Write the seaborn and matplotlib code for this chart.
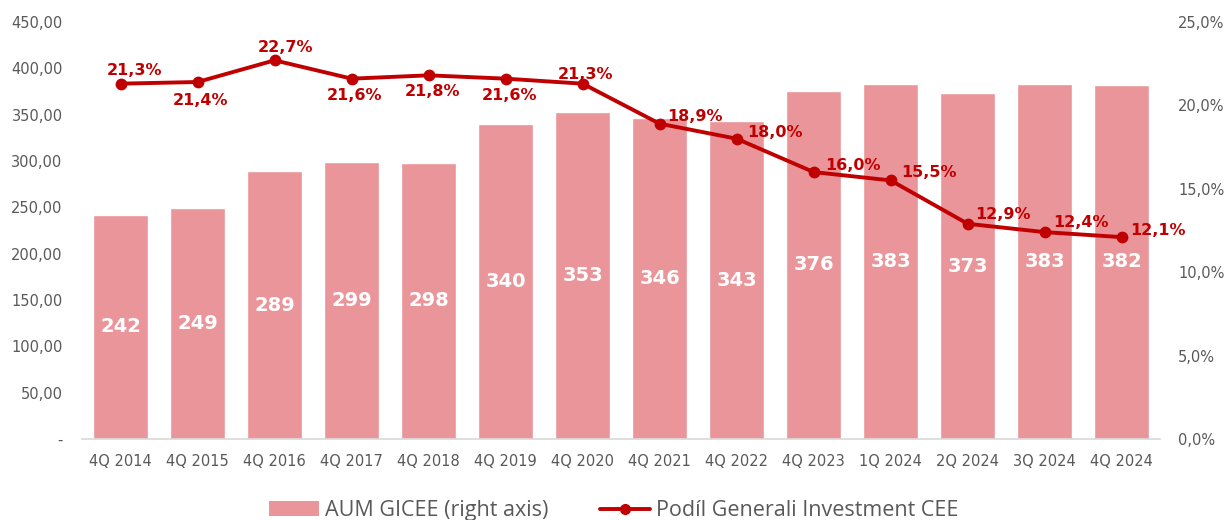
import pandas as pd
import numpy as np
import matplotlib
matplotlib.use("Agg")
import matplotlib.pyplot as plt
from matplotlib.ticker import FuncFormatter
from matplotlib.patches import Patch
from matplotlib.lines import Line2D
import seaborn as sns

# === Daten ===
quarters = ["4Q 2014", "4Q 2015", "4Q 2016", "4Q 2017", "4Q 2018", "4Q 2019", "4Q 2020",
            "4Q 2021", "4Q 2022", "4Q 2023", "1Q 2024", "2Q 2024", "3Q 2024", "4Q 2024"]
aum = [242, 249, 289, 299, 298, 340, 353, 346, 343, 376, 383, 373, 383, 382]
share = [21.3, 21.4, 22.7, 21.6, 21.8, 21.6, 21.3, 18.9, 18.0, 16.0, 15.5, 12.9, 12.4, 12.1]

# label placement for the share labels: (dx px, dy px, horizontal alignment)
share_pos = [(14, 13, "center"), (3, -19, "center"), (11, 13, "center"), (3, -17, "center"),
             (4, -16, "center"), (4, -17, "center"), (3, 9, "center"),
             (8, 7, "left"), (11, 6, "left"), (12, 7, "left"), (11, 8, "left"),
             (8, 9, "left"), (8, 10, "left"), (8, 7, "left")]

bar_color = "#EA9599"
line_color = "#C00000"
text_gray = "#595959"

sns.set_theme(style="white")
plt.rcParams["font.family"] = ["DejaVu Sans"]

df = pd.DataFrame({"quarter": quarters, "aum": aum, "share": share})

fig = plt.figure(figsize=(12.28, 5.2), dpi=100)
ax = fig.add_axes([0.0668, 0.1558, 0.878, 0.802])

sns.barplot(data=df, x="quarter", y="aum", color=bar_color, width=0.72,
            saturation=1, ax=ax)
ax.set_ylim(0, 450)
ax.set_yticks(np.arange(0, 451, 50))
ax.yaxis.set_major_formatter(FuncFormatter(lambda v, p: "-" if v == 0 else f"{v:.2f}".replace(".", ",")))
ax.set_xlabel("")
ax.set_ylabel("")
ax.tick_params(axis="x", length=0, labelsize=10.5, colors=text_gray, pad=11)
ax.tick_params(axis="y", length=0, labelsize=10.5, colors=text_gray, pad=14)
for s in ["top", "right", "left"]:
    ax.spines[s].set_visible(False)
ax.spines["bottom"].set_color("#D9D9D9")
ax.spines["bottom"].set_linewidth(1.2)
ax.set_xlim(-0.5, len(quarters) - 0.5)

for i, v in enumerate(aum):
    ax.text(i, v / 2, str(v), ha="center", va="center", color="white",
            fontsize=14, fontweight="bold")

ax2 = ax.twinx()
sns.lineplot(data=df, x="quarter", y="share", color=line_color, linewidth=2.8,
             marker="o", markersize=8.5, markeredgewidth=0, ax=ax2, sort=False)
ax2.set_ylim(0, 25)
ax2.set_yticks(np.arange(0, 26, 5))
ax2.yaxis.set_major_formatter(FuncFormatter(lambda v, p: f"{v:.1f}".replace(".", ",") + "%"))
ax2.set_ylabel("")
ax2.tick_params(axis="y", length=0, labelsize=10.5, colors=text_gray, pad=13)
for s in ax2.spines.values():
    s.set_visible(False)

for i, (v, (dx, dy, ha)) in enumerate(zip(share, share_pos)):
    ax2.annotate(f"{v:.1f}".replace(".", ",") + "%", (i, v), xytext=(dx * 0.72, dy * 0.72),
                 textcoords="offset points", ha=ha, va="center",
                 color=line_color, fontsize=11.5, fontweight="bold")

handles = [Patch(facecolor=bar_color, edgecolor="none"),
           Line2D([0], [0], color=line_color, linewidth=2.8, marker="o", markersize=7)]
fig.legend(handles, ["AUM GICEE (right axis)", "Podíl Generali Investment CEE"],
           loc="center", bbox_to_anchor=(0.5, 0.018), ncol=2, frameon=False,
           prop={"family": "Open Sans", "size": 15.5}, labelcolor=text_gray,
           handlelength=2.3, handletextpad=0.3, columnspacing=2.4)

fig.savefig("out.png", dpi=100)
